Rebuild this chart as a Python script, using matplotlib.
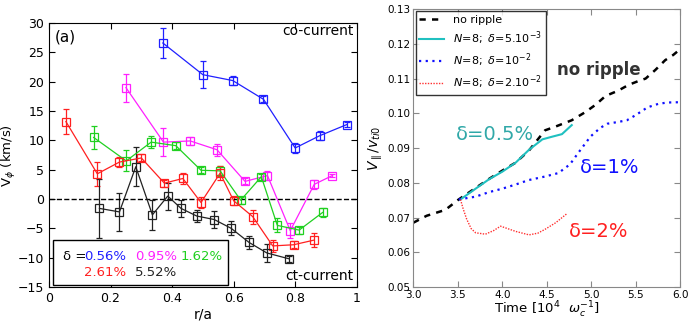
import matplotlib
matplotlib.use("Agg")
import matplotlib.pyplot as plt
from matplotlib.patches import Rectangle

# ---- left panel: toroidal rotation profiles ----
r_blue = [0.37, 0.50, 0.597, 0.697, 0.80, 0.88, 0.968]
v_blue = [26.6, 21.2, 20.2, 17.0, 8.7, 10.8, 12.7]
e_blue = [2.5, 2.3, 0.7, 0.5, 0.8, 0.8, 0.5]

r_mag = [0.25, 0.372, 0.459, 0.546, 0.637, 0.71, 0.784, 0.862, 0.921]
v_mag = [19.0, 9.7, 9.9, 8.4, 3.0, 4.0, -5.4, 2.5, 4.0]
e_mag = [2.4, 2.4, 0.7, 1.0, 0.5, 0.7, 1.3, 0.8, 0.3]

r_green = [0.145, 0.251, 0.332, 0.412, 0.494, 0.556, 0.623, 0.69, 0.742, 0.813, 0.889]
v_green = [10.5, 6.5, 9.7, 9.1, 4.9, 4.8, -0.2, 3.8, -4.5, -5.3, -2.3]
e_green = [2.0, 1.8, 1.0, 0.6, 0.5, 0.8, 0.6, 0.5, 1.2, 0.6, 0.7]

r_red = [0.055, 0.157, 0.229, 0.30, 0.375, 0.435, 0.494, 0.556, 0.60, 0.662, 0.727, 0.795, 0.862]
v_red = [13.2, 4.3, 6.3, 7.0, 2.7, 3.5, -0.6, 4.4, -0.3, -3.0, -8.0, -7.8, -7.0]
e_red = [2.2, 2.0, 0.9, 0.6, 0.6, 1.0, 1.0, 1.2, 0.8, 1.2, 1.0, 0.6, 1.2]

r_black = [0.164, 0.229, 0.282, 0.336, 0.386, 0.429, 0.48, 0.537, 0.592, 0.65, 0.708, 0.78]
v_black = [-1.6, -2.2, 5.5, -2.7, 0.5, -1.6, -2.9, -3.5, -5.0, -7.4, -9.2, -10.2]
e_black = [5.0, 3.2, 3.3, 2.6, 2.3, 1.4, 1.0, 1.4, 1.2, 1.1, 1.6, 0.5]

# ---- right panel: parallel velocity time traces ----
t_noripple = [3.0, 3.15, 3.36, 3.51, 3.7, 3.85, 4.0, 4.15, 4.3, 4.48, 4.6, 4.78,
              4.93, 5.05, 5.16, 5.3, 5.42, 5.52, 5.61, 5.72, 5.83, 5.92, 6.0]
v_noripple = [0.0685, 0.0705, 0.0722, 0.0752, 0.0785, 0.0811, 0.0835, 0.0858, 0.0893, 0.0951,
              0.0962, 0.0980, 0.1003, 0.1025, 0.1050, 0.1065, 0.1082, 0.1092, 0.1100, 0.1125,
              0.1153, 0.1168, 0.1185]
t_d05 = [3.53, 3.7, 3.85, 4.0, 4.15, 4.3, 4.45, 4.55, 4.67, 4.78]
v_d05 = [0.0752, 0.0783, 0.0810, 0.0832, 0.0858, 0.0895, 0.0925, 0.0932, 0.0940, 0.0966]
t_d1 = [3.51, 3.7, 3.85, 4.0, 4.15, 4.3, 4.48, 4.63, 4.76, 4.85, 4.99, 5.1, 5.18,
        5.3, 5.4, 5.5, 5.63, 5.75, 5.85, 6.0]
v_d1 = [0.0752, 0.0760, 0.0773, 0.0783, 0.0795, 0.0808, 0.0818, 0.0828, 0.0853, 0.0885,
        0.0933, 0.0958, 0.0970, 0.0975, 0.0980, 0.0995, 0.1017, 0.1027, 0.1031, 0.1032]
t_d2 = [3.53, 3.56, 3.6, 3.65, 3.7, 3.81, 3.9, 3.98, 4.06, 4.15, 4.3, 4.4, 4.48, 4.6, 4.73]
v_d2 = [0.0752, 0.0725, 0.0695, 0.0668, 0.0656, 0.0652, 0.0662, 0.0675, 0.0668, 0.0660,
        0.0650, 0.0655, 0.0666, 0.0685, 0.0712]

fig = plt.figure(figsize=(6.9, 3.25), dpi=100)

# left axes
ax1 = fig.add_axes([0.071, 0.117, 0.446, 0.812])
series = [
    (r_blue, v_blue, e_blue, "#2020ff"),
    (r_mag, v_mag, e_mag, "#ff20ff"),
    (r_green, v_green, e_green, "#20d020"),
    (r_red, v_red, e_red, "#ff2020"),
    (r_black, v_black, e_black, "#222222"),
]
for r, v, e, c in series:
    ax1.errorbar(r, v, yerr=e, color=c, lw=0.9, marker="s", ms=6, mfc="none",
                 mec=c, mew=0.9, capsize=2.5, elinewidth=0.9)
ax1.axhline(0, color="black", ls="--", lw=1)
ax1.set_xlim(0, 1)
ax1.set_ylim(-15, 30)
ax1.set_xticks([0, 0.2, 0.4, 0.6, 0.8, 1])
ax1.set_xticklabels(["0", "0.2", "0.4", "0.6", "0.8", "1"])
ax1.set_yticks(range(-15, 31, 5))
ax1.tick_params(direction="in", top=True, right=True, labelsize=9, length=4)
ax1.set_xlabel("r/a", fontsize=10, labelpad=2)
ax1.set_ylabel(r"V$_\phi$ (km/s)", fontsize=9.5, labelpad=0)
ax1.text(0.02, 0.948, "(a)", transform=ax1.transAxes, fontsize=11, va="center")
ax1.text(0.99, 0.97, "co-current", transform=ax1.transAxes, fontsize=10,
         ha="right", va="center")
ax1.text(0.99, 0.04, "ct-current", transform=ax1.transAxes, fontsize=10,
         ha="right", va="center")
ax1.add_patch(Rectangle((0.012, 0.008), 0.57, 0.17, transform=ax1.transAxes,
                        fill=True, fc="white", ec="black", lw=1, zorder=5))
lg = [("δ =", 0.045, 0.117, "black"),
      ("0.56%", 0.115, 0.117, "#2020ff"),
      ("0.95%", 0.28, 0.117, "#ff20ff"),
      ("1.62%", 0.426, 0.117, "#20d020"),
      ("2.61%", 0.115, 0.054, "#ff2020"),
      ("5.52%", 0.28, 0.054, "#222222")]
for s, x, y, c in lg:
    ax1.text(x, y, s, transform=ax1.transAxes, color=c, fontsize=9.5,
             va="center", zorder=6)

# right axes
ax2 = fig.add_axes([0.599, 0.117, 0.387, 0.855])
ax2.plot(t_noripple, v_noripple, color="black", ls=(0, (2.5, 2.5)), lw=1.8, label="no ripple")
ax2.plot(t_d05, v_d05, color="#20c0c0", lw=1.5, label=r"$N\!=\!8;\;\delta\!=\!5.10^{-3}$")
ax2.plot(t_d1, v_d1, color="#1010ff", ls=(0, (1, 2)), lw=1.6, label=r"$N\!=\!8;\;\delta\!=\!10^{-2}$")
ax2.plot(t_d2, v_d2, color="#ff3030", ls=(0, (1, 1)), lw=1.0, label=r"$N\!=\!8;\;\delta\!=\!2.10^{-2}$")
ax2.set_xlim(3.0, 6.0)
ax2.set_ylim(0.05, 0.13)
ax2.set_xticks([3.0, 3.5, 4.0, 4.5, 5.0, 5.5, 6.0])
ax2.set_yticks([0.05, 0.06, 0.07, 0.08, 0.09, 0.10, 0.11, 0.12, 0.13])
ax2.tick_params(direction="in", top=True, right=True, labelsize=7.5, length=4, pad=2,
                color="#888888")
ax2.tick_params(axis="x", pad=2)
for sp in ax2.spines.values():
    sp.set_color("#888888")
ax2.set_xlabel(r"Time $[10^4\ \ \omega_c^{-1}]$", fontsize=9.5, labelpad=0)
ax2.set_ylabel(r"$V_\parallel/v_{ti0}$", fontsize=10, labelpad=2)
ax2.legend(loc="upper left", fontsize=8, frameon=True, fancybox=False,
           edgecolor="black", borderpad=0.35, labelspacing=0.4, handlelength=2.2,
           borderaxespad=0.2)
ax2.text(5.08, 0.1125, "no ripple", fontsize=12, fontweight="bold", color="#333333",
         ha="center", va="center")
ax2.text(3.92, 0.0938, "δ=0.5%", fontsize=14, color="#30a8a8", ha="center", va="center")
ax2.text(5.2, 0.0843, "δ=1%", fontsize=14, color="#1010ff", ha="center", va="center")
ax2.text(5.08, 0.0661, "δ=2%", fontsize=14, color="#ff2020", ha="center", va="center")

fig.savefig("out.png", dpi=100)
